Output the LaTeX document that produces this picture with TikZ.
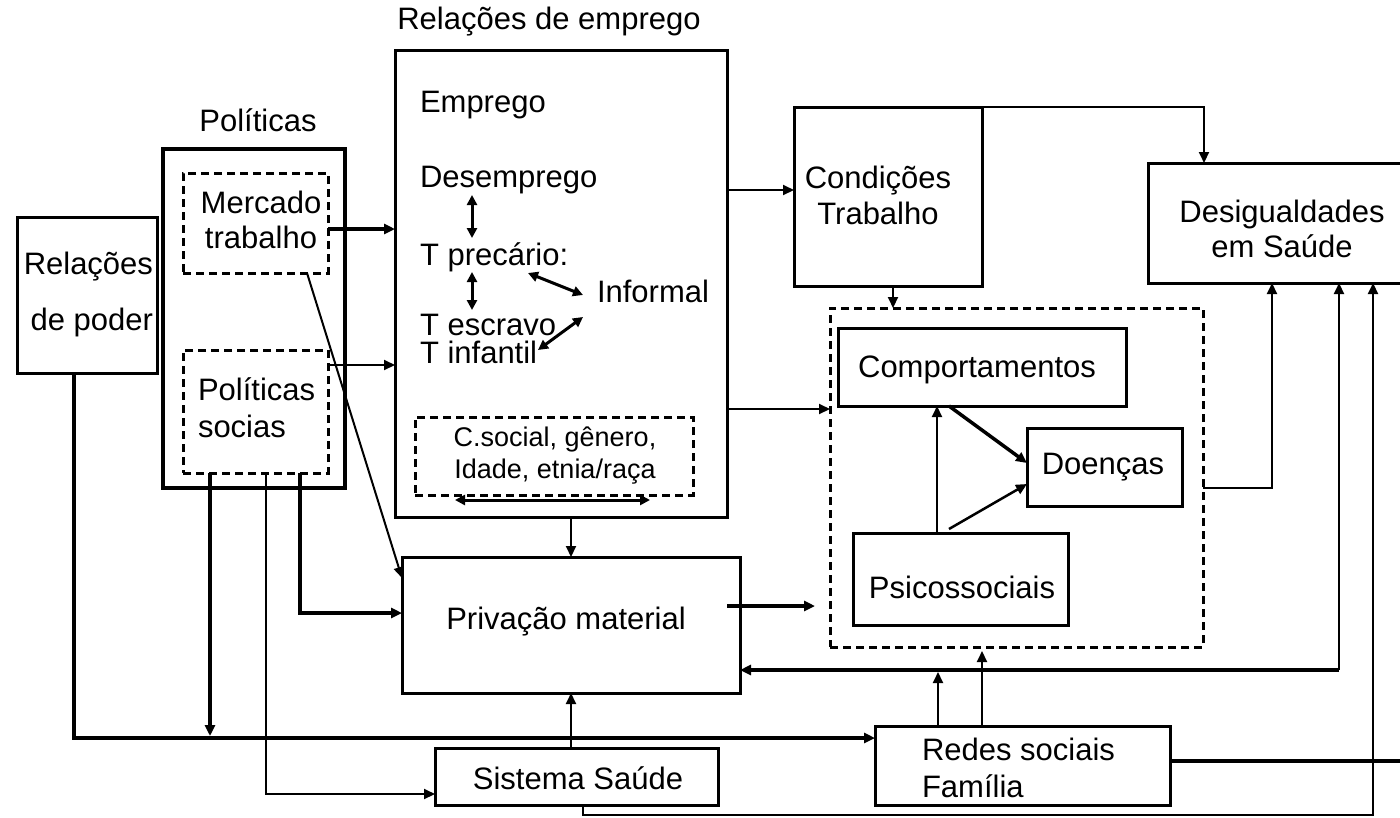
\documentclass[tikz,border=0pt]{standalone}
\usepackage{fontspec}
\setmainfont{Liberation Sans}
\usetikzlibrary{arrows.meta,calc}
\begin{document}
\begin{tikzpicture}[x=1pt,y=-1pt,
  bx/.style={draw,line width=3pt,inner sep=0pt,outer sep=0pt,anchor=north west},
  dbox/.style={bx,dash pattern=on 8pt off 5pt},
  txt/.style={inner sep=0pt,outer sep=0pt,font=\fontsize{31}{36}\selectfont},
  stxt/.style={inner sep=0pt,outer sep=0pt,font=\fontsize{27}{32}\selectfont},
  lnA/.style={line width=2pt},
  lnB/.style={line width=3.5pt},
  arr/.style={-{Triangle[length=11pt,width=10pt]}},
  darr/.style={line width=3pt,{Triangle[length=10pt,width=10pt]}-{Triangle[length=10pt,width=10pt]}}
]
\useasboundingbox (0,0) rectangle (1400,817);
\clip (0,0) rectangle (1400,817);

% boxes
\node[bx,minimum width=140pt,minimum height=156pt] (pod) at (17,217) {};
\node[bx,line width=4pt,minimum width=182pt,minimum height=339pt] (pol) at (163,149) {};
\node[dbox,minimum width=145pt,minimum height=100pt] (mt) at (183,173) {};
\node[dbox,minimum width=145pt,minimum height=123pt] (ps) at (183,350) {};
\node[bx,minimum width=332pt,minimum height=467pt] (emp) at (395,50) {};
\node[dbox,minimum width=278pt,minimum height=78pt] (csd) at (415,417) {};
\node[bx,minimum width=338pt,minimum height=136pt] (priv) at (402,557) {};
\node[bx,minimum width=283pt,minimum height=57pt] (sis) at (435,748) {};
\node[bx,minimum width=188pt,minimum height=179pt] (cond) at (794,107) {};
\node[bx,minimum width=268pt,minimum height=120pt] (des) at (1148,163) {};
\node[dbox,minimum width=373pt,minimum height=339pt] (out) at (830,308) {};
\node[bx,minimum width=288pt,minimum height=78pt] (comp) at (838,328) {};
\node[bx,minimum width=155pt,minimum height=78pt] (doen) at (1027,428) {};
\node[bx,minimum width=215pt,minimum height=92pt] (psi) at (853,533) {};
\node[bx,minimum width=295pt,minimum height=79pt] (redes) at (875,726) {};

% texts
\node[txt] (temp) at (549,22) {Relações de emprego};
\node[txt] (tpol) at (258,120) {Políticas};
\node[txt,align=right,anchor=east,font=\fontsize{31}{56}\selectfont] (tpod) at (153,294) {Relações\\de poder};
\node[txt,align=center,font=\fontsize{31}{35}\selectfont] (tmt) at (261,220) {Mercado\\trabalho};
\node[txt,align=left,anchor=west,font=\fontsize{31}{37}\selectfont] (tps) at (198,408) {Políticas\\socias};
\node[txt,anchor=base west] (te1) at (420,112) {Emprego};
\node[txt,anchor=base west] (te2) at (420,187) {Desemprego};
\node[txt,anchor=base west] (te3) at (420,265) {T precário:};
\node[txt,anchor=base west] (te4) at (597,302) {Informal};
\node[txt,anchor=base west] (te5) at (420,335) {T escravo};
\node[txt,anchor=base west] (te6) at (420,363) {T infantil};
\node[stxt,align=center] (tcsd) at (555,456) {C.social, gênero,\\Idade, etnia/raça};
\node[txt] (tpriv) at (566,622) {Privação material};
\node[txt] (tsis) at (578,778) {Sistema Saúde};
\node[txt,align=center] (tcond) at (878,195) {Condições\\Trabalho};
\node[txt,align=center,font=\fontsize{31}{35}\selectfont] (tdes) at (1282,229) {Desigualdades\\em Saúde};
\node[txt] (tcomp) at (977,370) {Comportamentos};
\node[txt] (tdoen) at (1103,467) {Doenças};
\node[txt] (tpsi) at (962,587) {Psicossociais};
\node[txt,align=left,anchor=west,font=\fontsize{31}{37}\selectfont] (tredes) at (922,768) {Redes sociais\\Família};

% junction coordinates
\coordinate (j210) at (210,738);
\coordinate (fb) at (1339,670);
\coordinate (rx) at (1410,761);

% connectors
\draw[lnB,arr] (mt.east |- 0,229) -- (emp.west |- 0,229);
\draw[lnA,arr] (ps.east |- 0,365) -- (emp.west |- 0,365);
\draw[lnA,arr] (mt.south -| 307,0) -- (priv.west |- 0,578);
\draw[lnB,arr,shorten >=2pt] (ps.south -| 210,0) -- (j210);
\draw[lnA,arr] (ps.south -| 266,0) |- (sis.west |- 0,794);
\draw[lnB,arr] (ps.south -| 300,0) |- (priv.west |- 0,613);
\draw[lnB,arr] (pod.south -| 74,0) |- (redes.west |- 0,738);
\draw[lnA,arr] (emp.south -| 571,0) -- (priv.north -| 571,0);
\draw[lnA,arr] (sis.north -| 571,0) -- (priv.south -| 571,0);
\draw[lnA,arr] (emp.east |- 0,190) -- (cond.west |- 0,190);
\draw[lnA,arr] (emp.east |- 0,409) -- (out.west |- 0,409);
\draw[lnB,arr] ($(priv.east |- 0,606)+(-13,0)$) -- ($(out.west |- 0,606)+(-15,0)$);
\draw[lnA,arr] (cond.south -| 893,0) -- (out.north -| 893,0);
\draw[lnA,arr] (cond.north east) -| (des.north -| 1204,0);
\draw[lnB,arr] (comp.south -| 949,0) -- (doen.west |- 0,463);
\draw[lnA,arr] (psi.north -| 937,0) -- (comp.south -| 937,0);
\draw[line width=2.5pt,arr] ($(psi.north -| 949,0)+(0,-4)$) -- (doen.west |- 0,484);
\draw[lnA,arr] (out.east |- 0,488) -| (des.south -| 1272,0);
\draw[lnA,arr] (fb) -- (des.south -| 1339,0);
\draw[lnB,arr] (fb) -- (priv.east |- fb);
\draw[lnA,arr,shorten >=2pt] (redes.north -| 938,0) -- (fb -| 938,0);
\draw[lnA,arr,shorten >=4pt] (redes.north -| 982,0) -- (out.south -| 982,0);
\draw[lnB] (redes.east |- 0,761) -- (rx);
\draw[lnA,arr] (sis.south -| 583,0) -- ++(0,10) -| (des.south -| 1373,0);

% arrows inside Relacoes de emprego
\coordinate (a1s) at (472,195); \coordinate (a1e) at (472,238);
\coordinate (a2s) at (528,273); \coordinate (a2e) at (583,295);
\coordinate (a3s) at (472,272); \coordinate (a3e) at (472,310);
\coordinate (a4s) at (538,350); \coordinate (a4e) at (583,317);
\coordinate (a5s) at (455,500); \coordinate (a5e) at (650,500);
\draw[darr] (a1s) -- (a1e);
\draw[darr] (a2s) -- (a2e);
\draw[darr] (a3s) -- (a3e);
\draw[darr] (a4s) -- (a4e);
\draw[darr] (a5s) -- (a5e);
\end{tikzpicture}
\end{document}
